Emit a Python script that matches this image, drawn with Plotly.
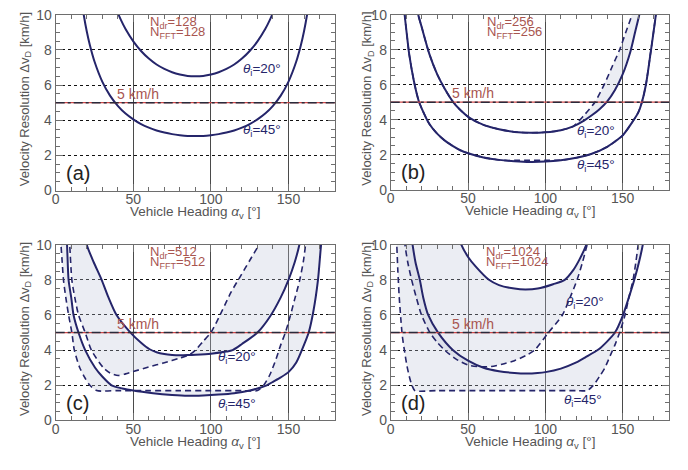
import plotly.graph_objects as go

# ---------------- data ----------------
X_RANGE = [0, 180]
Y_RANGE = [0, 10]
X_TICKS = [0, 50, 100, 150]
Y_TICKS = [0, 2, 4, 6, 8, 10]
LIMIT_KMH = 5
N_VALUES = [128, 256, 512, 1024]
PANEL_LETTERS = ["(a)", "(b)", "(c)", "(d)"]

# (a) N=128
A20_X = [38, 40, 42, 45, 50, 55, 60, 65, 70, 75, 80, 85, 90, 95, 100, 105, 110, 115, 120, 125, 130, 135, 138, 140, 142]
A20_Y = [10.56, 10.11, 9.71, 9.19, 8.49, 7.94, 7.51, 7.17, 6.92, 6.73, 6.60, 6.52, 6.50, 6.52, 6.60, 6.73, 6.92, 7.17, 7.51, 7.94, 8.49, 9.19, 9.71, 10.11, 10.56]
A45_X = [16, 18, 20, 22, 25, 30, 35, 40, 45, 50, 55, 60, 65, 70, 75, 80, 85, 90, 95, 100, 105, 110, 115, 120, 125, 130, 135, 140, 145, 150, 155, 158, 160, 162, 164]
A45_Y = [11.25, 10.03, 9.06, 8.28, 7.34, 6.20, 5.40, 4.82, 4.38, 4.05, 3.78, 3.58, 3.42, 3.30, 3.21, 3.15, 3.11, 3.10, 3.11, 3.15, 3.21, 3.30, 3.42, 3.58, 3.78, 4.05, 4.38, 4.82, 5.40, 6.20, 7.34, 8.28, 9.06, 10.03, 11.25]

# (b) N=256
B20_X = [16, 17.8, 20, 25, 30, 35, 40, 45, 51, 60, 70, 80, 90, 100, 110, 118, 125, 130, 135, 140, 145, 150, 155, 158, 160.7, 162.5]
B20_Y = [11.0, 10.0, 9.3, 7.75, 6.6, 5.75, 5.05, 4.55, 4.1, 3.7, 3.45, 3.3, 3.25, 3.28, 3.4, 3.62, 3.95, 4.25, 4.6, 5.05, 5.7, 6.6, 7.9, 9.0, 10.0, 11.0]
B20D_X = [16, 17.8, 20, 25, 30, 35, 40, 45, 51, 60, 70, 80, 90, 100, 110, 118, 125, 132, 138, 143, 148, 152, 156, 158]
B20D_Y = [11.0, 10.0, 9.3, 7.75, 6.6, 5.75, 5.05, 4.55, 4.1, 3.7, 3.45, 3.3, 3.25, 3.28, 3.4, 3.62, 4.25, 5.0, 6.0, 7.0, 8.0, 9.0, 10.0, 10.8]
B45_X = [8, 9, 10, 12, 15, 18, 20, 25, 30, 35, 40, 45, 50, 60, 70, 80, 90, 100, 110, 120, 130, 140, 145, 150, 155, 160, 162.4, 165, 168, 171.4, 173]
B45_Y = [11.2, 10.0, 9.2, 7.7, 6.2, 5.1, 4.65, 3.75, 3.2, 2.8, 2.5, 2.25, 2.08, 1.84, 1.7, 1.62, 1.58, 1.6, 1.68, 1.82, 2.05, 2.45, 2.75, 3.1, 3.7, 4.4, 5.0, 6.0, 7.8, 10.0, 11.5]
B45D_X = [8, 9, 10, 12, 15, 18, 20, 25, 30, 35, 40, 45, 50, 60, 70, 74, 80, 90, 100, 106, 110, 120, 130, 140, 145, 150, 155, 160, 162.4, 165, 168, 171.4, 173]
B45D_Y = [11.2, 10.0, 9.2, 7.7, 6.2, 5.1, 4.65, 3.75, 3.2, 2.8, 2.5, 2.25, 2.08, 1.84, 1.7, 1.67, 1.67, 1.67, 1.67, 1.67, 1.68, 1.82, 2.05, 2.45, 2.75, 3.1, 3.7, 4.4, 5.0, 6.0, 7.8, 10.0, 11.5]

# (c) N=512
C20_X = [18, 20, 24.5, 29.6, 34, 39.2, 48.2, 55, 60.5, 65, 70, 75, 80, 85, 90, 100, 110, 114, 120, 130, 138, 145, 150, 154, 157, 159]
C20_Y = [11.0, 10.0, 9.0, 8.0, 7.0, 6.0, 5.0, 4.42, 4.05, 3.88, 3.78, 3.73, 3.71, 3.72, 3.74, 3.8, 3.92, 4.0, 4.35, 5.0, 5.9, 7.0, 8.0, 9.0, 10.0, 11.0]
C20D_X = [8, 9, 10.4, 12.3, 14.7, 19, 23, 30.7, 35, 40.3, 45, 50, 60, 70, 80, 86, 90, 95, 100, 107, 113, 119, 125, 131, 133]
C20D_Y = [11.0, 10.0, 8.0, 7.0, 6.0, 5.0, 4.0, 3.0, 2.7, 2.56, 2.65, 2.78, 3.05, 3.28, 3.55, 3.73, 4.0, 4.5, 5.0, 6.2, 7.3, 8.2, 9.1, 10.0, 10.4]
C45_X = [6.5, 7.3, 8.3, 10, 11.5, 14.7, 19, 25.4, 30, 36, 43, 50, 62.7, 75, 85, 95, 105, 115, 125, 130, 136, 140, 145, 150, 155, 158.6, 163, 166, 169, 171, 172.5]
C45_Y = [11.0, 10.0, 8.0, 7.0, 6.0, 5.0, 4.0, 3.0, 2.5, 2.0, 1.82, 1.7, 1.55, 1.45, 1.4, 1.42, 1.47, 1.55, 1.7, 1.82, 2.0, 2.2, 2.45, 2.75, 3.3, 4.0, 5.0, 6.2, 8.0, 10.0, 11.0]
C45D_X = [2.8, 3.4, 4.2, 5, 6.5, 8.3, 10.4, 12, 15.5, 19, 22, 26.4, 40, 60, 80, 100, 120, 130, 134, 138, 142, 145, 148, 151, 154, 157, 159.5, 161, 162.5]
C45D_Y = [11.0, 10.0, 9.0, 8.0, 7.0, 6.0, 5.0, 4.0, 3.0, 2.4, 2.0, 1.7, 1.7, 1.7, 1.7, 1.7, 1.7, 1.7, 2.0, 2.6, 3.5, 4.3, 5.0, 5.9, 6.9, 7.9, 9.0, 10.0, 11.0]

# (d) N=1024
D20_X = [43, 45.6, 50, 55, 63.5, 70, 80, 87, 95, 105, 112.5, 118, 122, 126.5, 128.5]
D20_Y = [10.7, 10.0, 9.3, 8.75, 8.0, 7.7, 7.5, 7.45, 7.5, 7.75, 8.0, 8.55, 9.15, 10.0, 10.6]
D20D_X = [8.5, 9.2, 11, 13.5, 16.5, 19.9, 25.3, 30, 34.9, 42, 50, 58, 65, 72, 80, 88, 93, 102, 111, 116, 120.5, 124, 127, 128.5]
D20D_Y = [10.8, 10.0, 9.0, 8.0, 7.0, 6.0, 5.0, 4.45, 4.0, 3.5, 3.15, 3.05, 3.07, 3.2, 3.4, 3.72, 4.0, 5.0, 6.0, 7.0, 8.0, 9.0, 10.0, 10.5]
D45_X = [12.5, 14.1, 16, 18.8, 21, 24.2, 30.6, 40.3, 50, 60, 70, 80, 88, 95, 100, 110, 120, 126, 134.5, 140, 145, 150, 154, 157.5, 160.5, 163, 164.5]
D45_Y = [11.0, 10.0, 9.0, 8.0, 7.0, 6.0, 5.0, 4.0, 3.4, 3.0, 2.8, 2.7, 2.67, 2.7, 2.75, 2.95, 3.3, 3.6, 4.05, 4.5, 5.0, 5.95, 7.0, 8.0, 9.0, 10.0, 11.0]
D45D_X = [3.3, 3.9, 4.6, 5.5, 6.5, 7.5, 9, 10.5, 12, 13.5, 15.6, 30, 60, 90, 120, 127, 131, 135, 138.5, 142, 145, 148, 151.5, 154, 156.7, 158.5, 160, 161.5]
D45D_Y = [11.0, 10.0, 8.5, 7.0, 5.8, 4.8, 3.9, 3.1, 2.5, 2.05, 1.7, 1.7, 1.7, 1.7, 1.7, 1.7, 2.0, 2.5, 3.0, 3.7, 4.3, 5.0, 6.0, 7.0, 8.0, 9.0, 10.0, 11.0]

# ---------------- layout / style ----------------
W, H = 688, 470
CURVE = "#25256a"
FILL = "rgba(190,195,215,0.30)"
RED_TXT = "#a8554f"
GRAY_TXT = "#555555"
FRAME = "#6e6e6e"
FONT = "Liberation Sans, Arial, sans-serif"

PANELS = [
    dict(dom=(52, 333, 7, 189), pairs=[(A20_X, A20_Y, None, None), (A45_X, A45_Y, None, None)],
         lab20=(133, 6.9), lab45=(133, 3.42), nx=59.6, ytitle_x=21.5),
    dict(dom=(389, 669, 7, 188), pairs=[(B20_X, B20_Y, B20D_X, B20D_Y), (B45_X, B45_Y, B45D_X, B45D_Y)],
         lab20=(133, 3.35), lab45=(133, 1.36), nx=61, ytitle_x=365.5),
    dict(dom=(52, 333, 245, 427), pairs=[(C20_X, C20_Y, C20D_X, C20D_Y), (C45_X, C45_Y, C45D_X, C45D_Y)],
         lab20=(116.5, 3.59), lab45=(116.5, 0.93), nx=59.6, ytitle_x=21.5),
    dict(dom=(389, 669, 245, 427), pairs=[(D20_X, D20_Y, D20D_X, D20D_Y), (D45_X, D45_Y, D45D_X, D45D_Y)],
         lab20=(125.5, 6.7), lab45=(124, 1.12), nx=60.5, ytitle_x=365.5),
]

fig = go.Figure()
annotations = []
shapes = []
layout = {}

for i, p in enumerate(PANELS):
    s = "" if i == 0 else str(i + 1)
    xr, yr = "x" + s, "y" + s
    x0, x1, ytop, ybot = p["dom"]

    # fills between solid and dashed curves
    for sx, sy, dx, dy in p["pairs"]:
        if dx is None:
            continue
        fig.add_trace(go.Scatter(x=list(dx) + list(sx)[::-1], y=list(dy) + list(sy)[::-1],
                                 fill="toself", fillcolor=FILL, mode="lines",
                                 line=dict(width=0, shape="spline", smoothing=0.7),
                                 hoverinfo="skip", showlegend=False, xaxis=xr, yaxis=yr))
    # dashed curves
    for sx, sy, dx, dy in p["pairs"]:
        if dx is None:
            continue
        fig.add_trace(go.Scatter(x=dx, y=dy, mode="lines",
                                 line=dict(color=CURVE, width=1.6, dash="6px,4px", shape="spline", smoothing=0.7),
                                 hoverinfo="skip", showlegend=False, xaxis=xr, yaxis=yr))
    # solid curves
    for sx, sy, dx, dy in p["pairs"]:
        fig.add_trace(go.Scatter(x=sx, y=sy, mode="lines",
                                 line=dict(color=CURVE, width=2, shape="spline", smoothing=0.7),
                                 hoverinfo="skip", showlegend=False, xaxis=xr, yaxis=yr))

    common = dict(showline=True, linecolor=FRAME, linewidth=1, mirror="allticks",
                  ticks="inside", ticklen=7, tickcolor=FRAME, tickwidth=1,
                  tickfont=dict(size=14, color=GRAY_TXT, family=FONT), zeroline=False,
                  showgrid=True, gridwidth=1)
    layout["xaxis" + s] = dict(common, domain=[x0 / W, x1 / W], range=X_RANGE, anchor=yr,
                               tickvals=X_TICKS, gridcolor="#4a4a4a", ticklabelstandoff=-4,
                               minor=dict(dtick=10, tick0=0, ticks="inside", ticklen=4, tickcolor=FRAME, showgrid=False))
    layout["yaxis" + s] = dict(common, domain=[1 - ybot / H, 1 - ytop / H], range=Y_RANGE, anchor=xr,
                               tickvals=Y_TICKS, gridcolor="#111111", griddash="dot",
                               minor=dict(dtick=0.5, tick0=0, ticks="inside", ticklen=4, tickcolor=FRAME, showgrid=False))

    # 5 km/h limit line
    shapes.append(dict(type="line", xref=xr + " domain", yref=yr, x0=0, x1=1, y0=LIMIT_KMH, y1=LIMIT_KMH,
                       line=dict(color="#d24a4a", width=1.2), layer="above"))
    shapes.append(dict(type="line", xref=xr + " domain", yref=yr, x0=0, x1=1, y0=LIMIT_KMH, y1=LIMIT_KMH,
                       line=dict(color="#2a2a3a", width=1.5, dash="dashdot"), layer="above"))

    def ann(text, x, y, size=13, color=CURVE, **kw):
        d = dict(text=text, x=x, y=y, xref=xr, yref=yr, showarrow=False,
                 font=dict(family=FONT, size=size, color=color))
        d.update(kw)
        annotations.append(d)

    ann("5 km/h", 53, 5.5, size=14, color=RED_TXT)
    ann(f"N<sub>dr</sub>={N_VALUES[i]}", p["nx"], 9.55, size=13, color=RED_TXT, xanchor="left")
    ann(f"N<sub>FFT</sub>={N_VALUES[i]}", p["nx"], 9.0, size=13, color=RED_TXT, xanchor="left")
    ann("<i>θ</i><sub>i</sub>=20°", p["lab20"][0], p["lab20"][1], size=13.5)
    ann("<i>θ</i><sub>i</sub>=45°", p["lab45"][0], p["lab45"][1], size=13.5)
    ann(PANEL_LETTERS[i], 5.5, 1.0, size=20, color="#222222", xanchor="left")

    # axis titles
    annotations.append(dict(text="Vehicle Heading <i>α</i><sub>v</sub> [°]", xref="paper", yref="paper",
                            x=(x0 + x1) / 2 / W, y=1 - (ybot + 23) / H, xanchor="center", yanchor="middle",
                            showarrow=False, font=dict(family=FONT, size=13.5, color=GRAY_TXT)))
    annotations.append(dict(text="Velocity Resolution Δv<sub>D</sub> [km/h]", xref="paper", yref="paper",
                            x=p["ytitle_x"] / W, y=1 - ((ytop + ybot) / 2 - 4) / H, textangle=-90,
                            xanchor="center", yanchor="middle",
                            showarrow=False, font=dict(family=FONT, size=13, color=GRAY_TXT)))

fig.update_layout(width=W, height=H, margin=dict(l=0, r=0, t=0, b=0, pad=0), autosize=False,
                  paper_bgcolor="white", plot_bgcolor="white", showlegend=False,
                  annotations=annotations, shapes=shapes, **layout)

fig.write_html("out.html", config={"displayModeBar": False},
               post_script="document.body.style.margin='0px';")
